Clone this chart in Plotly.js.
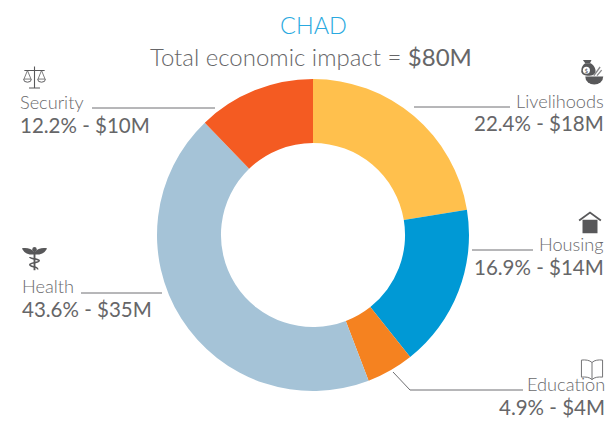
<!DOCTYPE html>
<html>
<head>
<meta charset="utf-8">
<script src="https://cdn.plot.ly/plotly-3.0.1.min.js"></script>
<style>html,body{margin:0;padding:0;background:#fff;overflow:hidden}#c{width:608px;height:425px;opacity:.999}</style>
</head>
<body>
<div id="c"></div>
<script>
const categories = ["Livelihoods", "Housing", "Education", "Health", "Security"];
const percents = [22.4, 16.9, 4.9, 43.6, 12.2];
const amounts = ["$18M", "$14M", "$4M", "$35M", "$10M"];
const colors = ["#FFC04D", "#0099D5", "#F58220", "#A5C3D7", "#F45B22"];
const chartTitle = "CHAD";
const totalLabel = "Total economic impact = ";
const totalValue = "$80M";

const W = 608, H = 425;
const fx = p => p / W, fy = p => 1 - p / H;
const FONT = "Lato, 'Open Sans', sans-serif";
const GREY = "#666668";

const labelPos = [
  ["right", 606, 101, 123],
  ["right", 606, 244, 267],
  ["right", 607, 384, 407],
  ["left", 20, 286, 309],
  ["left", 18, 102, 125]
];
const leaders = [
  [[414,107],[510,107]],
  [[472,250],[533,250]],
  [[393,372],[410,390],[523,390]],
  [[81,293],[162,293]],
  [[92,108],[215,108]]
];

function txt(text, xpx, ypx, anchor, size, color, weight) {
  return {text, x: fx(xpx), y: fy(ypx), xref: "paper", yref: "paper",
    xanchor: anchor, yanchor: "middle", showarrow: false,
    font: {family: FONT, size, color, weight: weight || 400}};
}
const annotations = [
  txt(chartTitle, 313, 25, "center", 23.5, "#29A9E0", 300),
  txt(totalLabel + '<span style="font-weight:400">' + totalValue + '</span>', 311, 56, "center", 24, GREY, 300)
];
categories.forEach((c, i) => {
  const [a, x, y1, y2] = labelPos[i];
  annotations.push(txt(c, x, y1, a, 18.2, "#69696c", 300));
  annotations.push(txt(percents[i].toFixed(1) + "% - " + amounts[i], x, y2, a, 20.5, GREY));
});

const shapes = leaders.map(pts => ({
  type: "path", xref: "paper", yref: "paper",
  path: pts.map((p, i) => (i ? "L" : "M") + fx(p[0]) + "," + fy(p[1])).join(" "),
  line: {color: "#6f6f72", width: 1}
}));

const svg = body => "data:image/svg+xml;utf8," + encodeURIComponent(
  '<svg xmlns="http://www.w3.org/2000/svg" viewBox="0 0 32 32" width="32" height="32">' + body + '</svg>');
const G = "#58585a";
const icons = {
  scales: svg(`<g fill="none" stroke="${G}" stroke-width="1.4"><path d="M16 2V29M9 29.5H23M3 7H29"/><path d="M7 7L2.5 18H11.5ZM25 7L20.5 18H29.5Z" stroke-width="1"/><path d="M2 18a5 4 0 0 0 10 0M20 18a5 4 0 0 0 10 0" stroke-width="1.2"/></g>`),
  bag: svg(`<g fill="${G}"><path d="M5 0h11l-2 4H8z"/><path d="M8 4h7c5 3 7 8 6 12-1 3-6 5-10 4-5 0-9-3-8-7 0-4 2-7 5-9z"/><path d="M8 21h23a11.500 10.500 0 0 1-23 0z"/></g><circle cx="9.500" cy="13" r="4.500" fill="#fff"/><text x="9.500" y="16" font-size="8" font-family="Lato" text-anchor="middle" fill="${G}">$</text><path d="M19 20L27 9M23 20l6-7" stroke="#8a8a8c" stroke-width="1.800"/>`),
  house: svg(`<path fill="${G}" d="M6 13h20v18H6z"/><path fill="none" stroke="${G}" stroke-width="2.400" d="M1.500 14L16 3.500 30.500 14"/>`),
  book: svg(`<path fill="none" stroke="#707072" stroke-width="1.200" d="M16 8C13 5 8 4.500 3 5v21c5-.5 10 0 13 3 3-3 8-3.500 13-3V5c-5-.5-10 0-13 3zM16 8v21"/>`),
  caduceus: svg(`<g fill="${G}"><path d="M16 8C12 3 6 2 0 3c2 5 6 8 12 8h8c6 0 10-3 12-8-6-1-12 0-16 5z"/><circle cx="16" cy="4" r="2.800"/><rect x="14.800" y="6" width="2.400" height="25"/></g><path fill="none" stroke="${G}" stroke-width="2" d="M10 14c0 3 12 2 12 5s-12 2-12 5 11 2 10 6"/>`)
};
const iconBox = [
  [icons.bag, 579, 60, 25],
  [icons.house, 578, 210, 24],
  [icons.book, 579, 356, 26],
  [icons.caduceus, 22, 246, 25],
  [icons.scales, 22, 65, 25]
];
const images = iconBox.map(([source, x, y, s]) => ({
  source, xref: "paper", yref: "paper", x: fx(x), y: fy(y),
  sizex: s / W, sizey: s / H, xanchor: "left", yanchor: "top",
  sizing: "contain", layer: "above"
}));

Plotly.newPlot("c", [{
  type: "pie",
  labels: categories,
  values: percents,
  sort: false,
  direction: "clockwise",
  rotation: 0,
  hole: 0.59,
  textinfo: "none",
  marker: {colors, line: {width: 0}},
  domain: {x: [fx(157), fx(469)], y: [fy(391), fy(79)]}
}], {
  width: W, height: H,
  margin: {l: 0, r: 0, t: 0, b: 0},
  paper_bgcolor: "#fff",
  showlegend: false,
  annotations, shapes, images
}, {displayModeBar: false, staticPlot: true});
</script>
</body>
</html>
